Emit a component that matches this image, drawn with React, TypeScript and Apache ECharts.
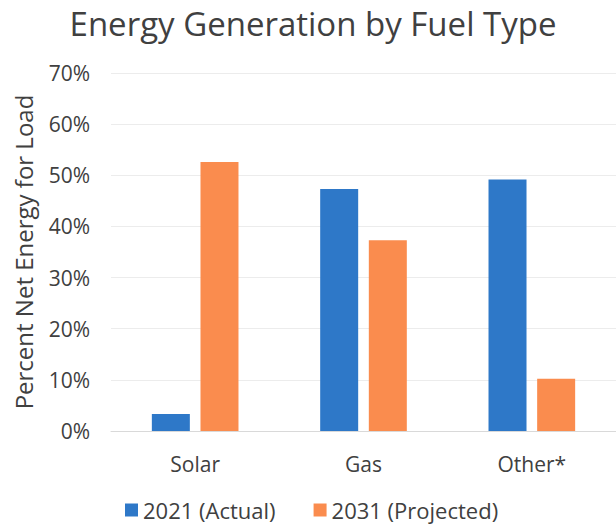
import React, { useEffect, useRef } from "react";
import * as echarts from "echarts";

const categories = ["Solar", "Gas", "Other*"];
const actual2021 = [3.3, 47.3, 49.2];
const projected2031 = [52.6, 37.3, 10.2];
const seriesNames = ["2021 (Actual)", "2031 (Projected)"];
const yTicks = [0, 10, 20, 30, 40, 50, 60, 70];

export default function App() {
  const ref = useRef<HTMLDivElement>(null);
  useEffect(() => {
    const chart = echarts.init(ref.current!, null, { renderer: "svg" });
    const font = "'Open Sans', 'Noto Sans', sans-serif";
    chart.setOption({
      animation: false,
      title: {
        text: "Energy Generation by Fuel Type",
        left: 313,
        top: 7,
        padding: 0,
        textAlign: "center",
        textStyle: { fontFamily: font, fontSize: 33, fontWeight: "normal", color: "#404040" },
      },
      legend: {
        data: seriesNames,
        top: 494,
        left: 120,
        itemWidth: 13,
        itemHeight: 13,
        itemGap: 38,
        icon: "rect",
        textStyle: { fontFamily: font, fontSize: 22, color: "#404040" },
      },
      grid: { left: 111, right: -4, top: 73, bottom: 95, containLabel: false },
      xAxis: {
        type: "category",
        data: categories,
        axisLine: { lineStyle: { color: "#d9d9d9" } },
        axisTick: { show: false },
        axisLabel: { fontFamily: font, fontSize: 21, color: "#404040", margin: 22 },
      },
      yAxis: {
        type: "value",
        min: yTicks[0],
        max: yTicks[yTicks.length - 1],
        interval: 10,
        name: "Percent Net Energy for Load",
        nameLocation: "middle",
        nameGap: 76,
        nameTextStyle: { fontFamily: font, fontSize: 24, color: "#404040" },
        axisLabel: { formatter: "{value}%", fontFamily: font, fontSize: 21, color: "#404040", margin: 21 },
        splitLine: { lineStyle: { color: "#ececec" } },
      },
      series: [
        {
          name: seriesNames[0],
          type: "bar",
          data: actual2021,
          barWidth: 38,
          barGap: "28%",
          itemStyle: { color: "#2E78C8" },
        },
        {
          name: seriesNames[1],
          type: "bar",
          data: projected2031,
          barWidth: 38,
          itemStyle: { color: "#FA8C4E" },
        },
      ],
    });
    return () => chart.dispose();
  }, []);
  return (
    <div
      ref={ref}
      style={{ position: "fixed", left: 0, top: 0, width: 616, height: 526, background: "#fff" }}
    />
  );
}
